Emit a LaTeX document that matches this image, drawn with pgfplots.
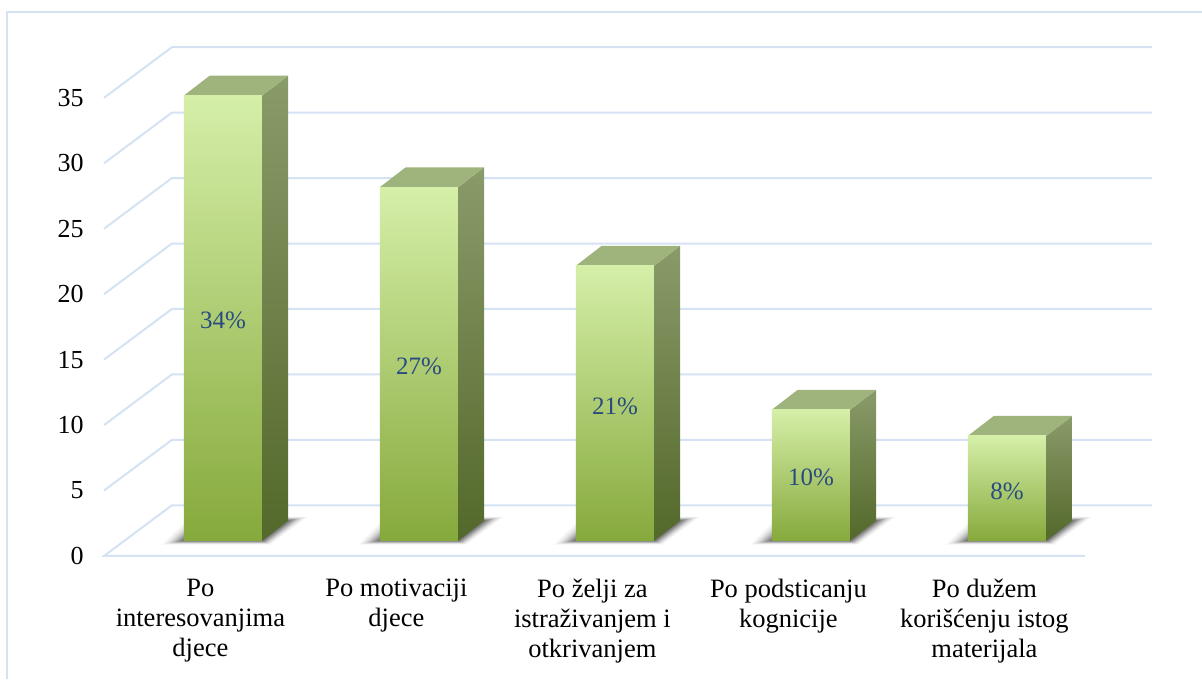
\documentclass[border=0pt]{standalone}
\usepackage{pgfplots}
\pgfplotsset{compat=1.18}
\usepackage{fontspec}
\setmainfont{Liberation Serif}
\definecolor{gridc}{HTML}{D5E2F3}
\definecolor{frontT}{HTML}{D5EFA8}
\definecolor{frontB}{HTML}{86A93C}
\definecolor{sideT}{HTML}{8A9B6A}
\definecolor{sideB}{HTML}{53682A}
\definecolor{topc}{HTML}{9FB47C}
\definecolor{lab}{HTML}{2A4B80}
\newcommand{\gridline}[2]{\addplot[gridc,line width=1pt,forget plot] coordinates {(-0.607,#1) (-0.2602,#2) (4.74,#2)};}
\newcommand{\shadowlayer}[3]{%
  \pgfmathsetmacro{\xa}{#1-0.2-22*#2/196}%
  \pgfmathsetmacro{\xb}{#1+0.2+8*#2/196}%
  \pgfmathsetmacro{\xc}{#1+0.2+(26+20*#2)/196}%
  \pgfmathsetmacro{\xd}{#1-0.2+(26-20*#2)/196}%
  \pgfmathsetmacro{\ya}{-4*#2/13.09}%
  \pgfmathsetmacro{\yb}{(20+4*#2)/13.09}%
  \addplot[draw=none,fill=black!80,fill opacity=#3,forget plot] coordinates {(\xa,\ya) (\xb,\ya) (\xc,\yb) (\xd,\yb)} --cycle;%
}
\newcommand{\shadow}[1]{\shadowlayer{#1}{1}{.03}\shadowlayer{#1}{0.9}{.04}\shadowlayer{#1}{0.8}{.05}\shadowlayer{#1}{0.7}{.07}\shadowlayer{#1}{0.6}{.09}\shadowlayer{#1}{0.5}{.11}\shadowlayer{#1}{0.4}{.13}\shadowlayer{#1}{0.3}{.15}\shadowlayer{#1}{0.2}{.17}\shadowlayer{#1}{0.1}{.19}}
\newcommand{\sideface}[4]{\addplot[draw=none,top color=sideT,bottom color=sideB,forget plot] coordinates {(#1,0) (#2,1.528) (#2,#4) (#1,#3)} --cycle;}
\newcommand{\topface}[6]{\addplot[draw=none,fill=topc,forget plot] coordinates {(#1,#5) (#2,#6) (#3,#6) (#4,#5)} --cycle;}
\newcommand{\frontface}[2]{\addplot[ybar,bar width=39pt,bar shift=0pt,draw=none,top color=frontT,bottom color=frontB,forget plot] coordinates {(#1,#2)};}
\begin{document}
\begin{tikzpicture}
\path[use as bounding box] (0,0) rectangle (601pt,339.5pt);
\begin{axis}[
  at={(46pt,56.5pt)}, anchor=south west,
  scale only axis, width=534pt, height=273pt,
  xmin=-0.668, xmax=4.781, ymin=-1.933, ymax=39.78,
  clip=false,
  axis line style={draw=none},
  major tick length=0pt,
  xtick={-0.115,0.885,1.885,2.885,3.885},
  xticklabels={{Po\\interesovanjima\\djece},{Po motivaciji\\djece},{Po želji za\\istraživanjem i\\otkrivanjem},{Po podsticanju\\kognicije},{Po dužem\\korišćenju istog\\materijala}},
  xticklabel style={align=center,anchor=north,font=\fontsize{13.25}{15}\selectfont,inner sep=0pt,yshift=-6.5pt},
  ytick={-1.169,3.831,8.831,13.831,18.831,23.831,28.831,33.831},
  yticklabels={0,5,10,15,20,25,30,35},
  yticklabel style={anchor=east,font=\fontsize{13}{15}\selectfont,inner sep=0pt,xshift=-4pt},
]
% frame
\addplot[gridc,line width=1pt,forget plot] coordinates {(-1.102,-10.565) (-1.102,40.39) (4.995,40.39)};
% gridlines
\addplot[gridc,line width=1pt,forget plot] coordinates {(4.398,-1.169) (-0.607,-1.169) (-0.2602,2.704) (4.74,2.704)};
\gridline{3.831}{7.704}
\gridline{8.831}{12.704}
\gridline{13.831}{17.704}
\gridline{18.831}{22.704}
\gridline{23.831}{27.704}
\gridline{28.831}{32.704}
\gridline{33.831}{37.704}
% shadows
\shadow{0}\shadow{1}\shadow{2}\shadow{3}\shadow{4}
% side and top faces
\sideface{0.2}{0.3327}{34}{35.528}
\sideface{1.2}{1.3327}{27}{28.528}
\sideface{2.2}{2.3327}{21}{22.528}
\sideface{3.2}{3.3327}{10}{11.528}
\sideface{4.2}{4.3327}{8}{9.528}
\topface{-0.2}{-0.0673}{0.3327}{0.2}{34}{35.528}
\topface{0.8}{0.9327}{1.3327}{1.2}{27}{28.528}
\topface{1.8}{1.9327}{2.3327}{2.2}{21}{22.528}
\topface{2.8}{2.9327}{3.3327}{3.2}{10}{11.528}
\topface{3.8}{3.9327}{4.3327}{4.2}{8}{9.528}
% front faces
\frontface{0}{34}
\frontface{1}{27}
\frontface{2}{21}
\frontface{3}{10}
\frontface{4}{8}
% labels
\node[text=lab,font=\fontsize{12.5}{14}\selectfont] at (axis cs:0,16.8) {34\%};
\node[text=lab,font=\fontsize{12.5}{14}\selectfont] at (axis cs:1,13.3) {27\%};
\node[text=lab,font=\fontsize{12.5}{14}\selectfont] at (axis cs:2,10.3) {21\%};
\node[text=lab,font=\fontsize{12.5}{14}\selectfont] at (axis cs:3,4.85) {10\%};
\node[text=lab,font=\fontsize{12.5}{14}\selectfont] at (axis cs:4,3.8) {8\%};
\end{axis}
\end{tikzpicture}
\end{document}
